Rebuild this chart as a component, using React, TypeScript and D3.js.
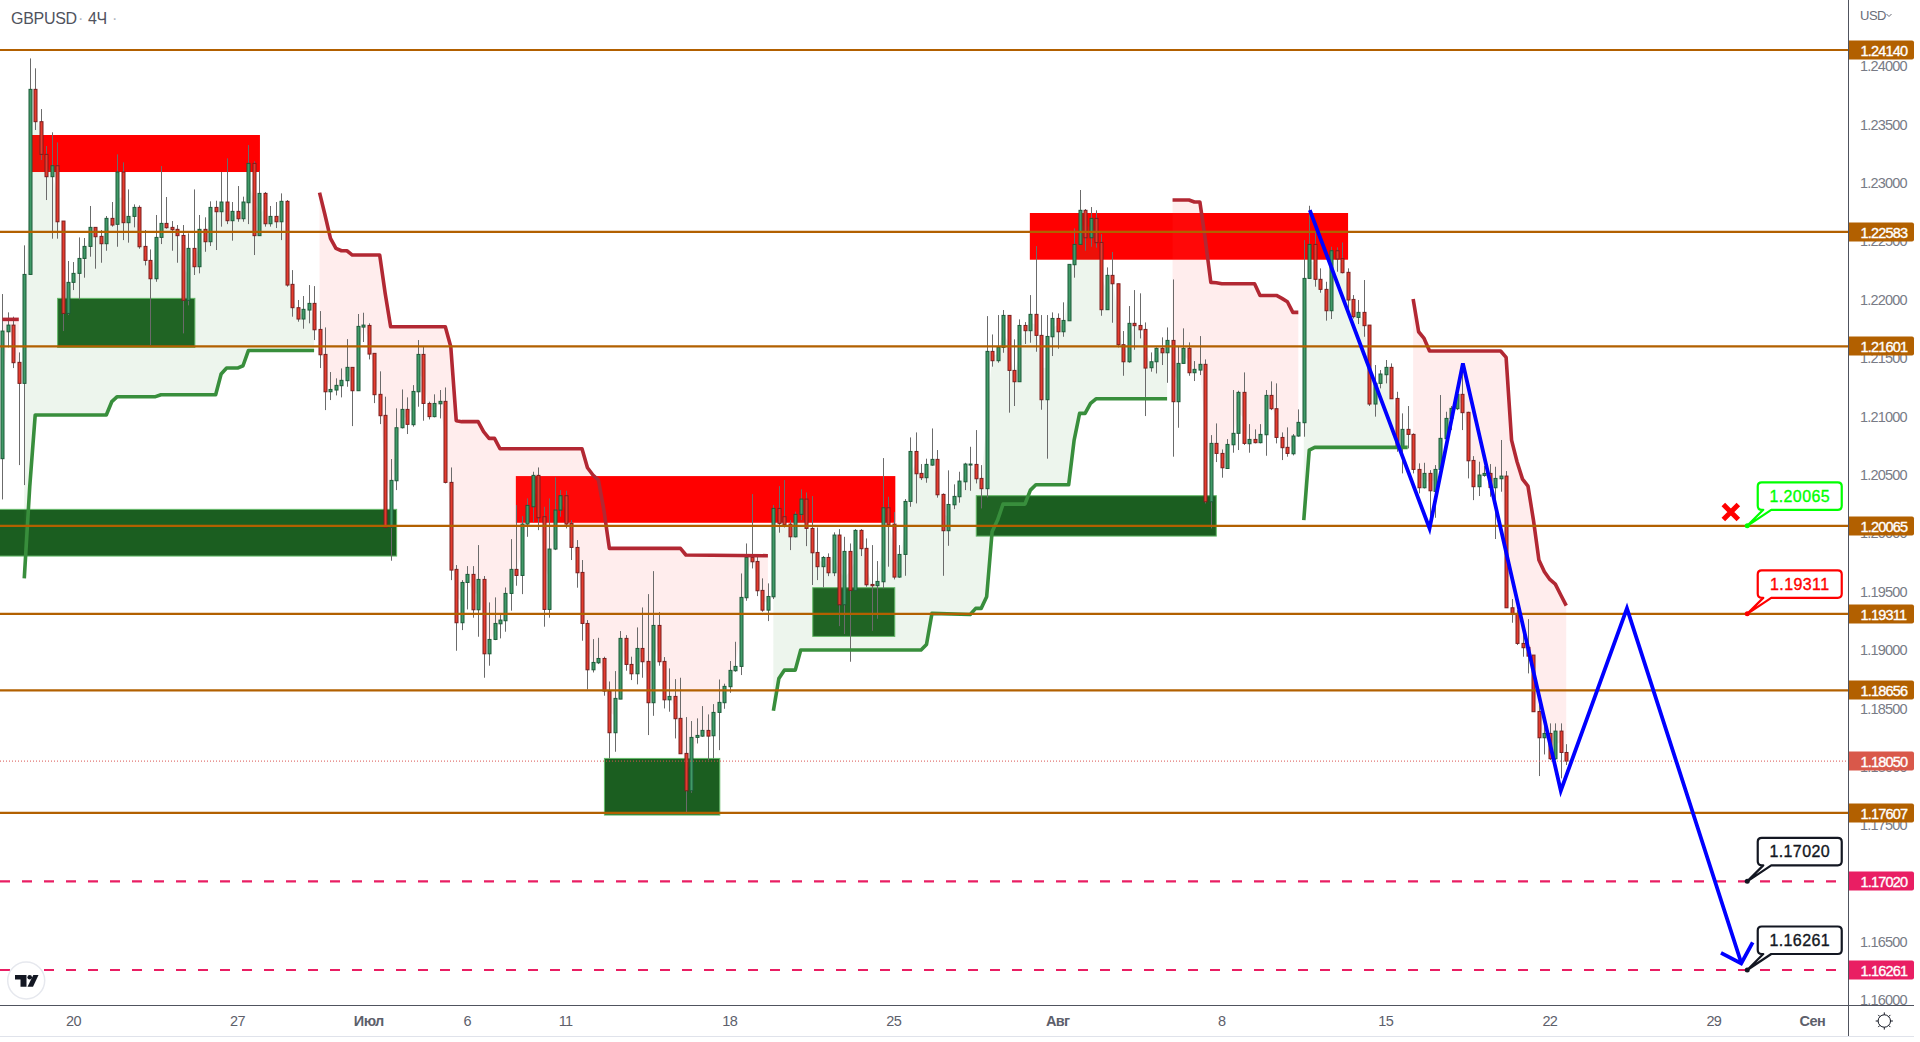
import React from "react";
import * as d3 from "d3";

// All prices are in points: 1 point = 0.00001 GBPUSD
const opens = [
120640,121727,121784,121465,121285,122218,123803,123526,123246,123055,
123149,122675,121884,122150,122227,122355,122458,122621,122544,122481,
122698,122647,123095,122661,122715,122792,122458,122338,122181,122535,
122655,122621,122604,122552,121996,122441,122284,122604,122498,122792,
122755,122838,122678,122758,122695,122832,123169,122550,122912,122652,
122715,122669,122844,122133,121933,121836,121913,121970,121747,121533,
121213,121228,121265,121308,121422,121222,121767,121781,121542,121191,
121011,120051,120451,120905,121062,120931,121213,121533,121113,121000,
121110,121131,120437,119692,119235,119580,119649,119346,119606,118969,
119092,119226,119252,119486,119692,119640,120080,120228,120497,120143,
119349,119866,120200,120323,120086,119880,119666,119229,118832,118892,
118929,118650,118293,118581,119101,118878,118798,119015,118904,118550,
119212,118904,118575,118604,118416,118116,117796,118253,118264,118313,
118267,118467,118550,118687,118824,118861,119449,119794,119760,119512,
119343,119457,120214,120143,120080,119971,120163,120294,120043,119837,
119715,119794,119663,119986,119389,119846,119512,120026,119872,119563,
119552,119586,120220,120080,119626,119820,120274,120702,120514,120477,
120585,120634,120334,120023,120245,120314,120442,120588,120591,120471,
120383,121559,121479,121593,121867,121396,121299,121781,121736,121876,
121696,121145,121684,121841,121727,121821,122301,122475,122767,122532,
122698,122492,121916,122210,122138,121616,121470,121799,121781,121747,
121419,121470,121585,121547,121653,121128,121456,121585,121376,121399,
121448,120271,120771,120685,120556,120759,120857,121208,120768,120805,
120777,120845,121182,121068,120822,120737,120682,120834,120948,122184,
122475,122176,122090,121907,122421,122353,122236,122004,121850,121893,
121784,121108,121285,121359,121422,121156,120742,120891,120848,120548,
120391,120514,120360,120548,120811,120985,121068,121191,121037,120625,
120400,120497,120514,120391,120468,120491,119363,119309,119058,119024,
118958,118475,118250,118287,118070,118307,118124];

const highs = [
122050,121893,121856,121550,122467,124068,123983,123634,123318,123435,
123349,122675,122333,122324,122535,122530,122804,122621,122598,122718,
122838,123246,123178,122946,122818,122809,122598,122432,122727,123146,
122881,122675,122641,122641,122570,122946,122727,122707,122844,122849,
123095,123212,122838,122975,122884,123326,123186,123106,122924,122804,
122838,122912,122855,122255,121999,122033,122127,122118,121904,121764,
121382,121328,121413,121664,121422,121879,121890,121799,121542,121388,
121171,120637,121071,121233,121165,121270,121656,121599,121128,121191,
121228,121250,120565,119729,119600,119720,119720,119900,119635,119409,
119452,119301,119537,119951,120243,120148,120300,120528,120565,120228,
120300,120480,120371,120365,120114,119943,119772,119258,119095,119106,
118944,118732,118821,119164,119129,118944,119195,119366,119480,119677,
119326,118941,118844,118752,118764,118427,118393,118416,118521,118450,
118538,118749,118713,118907,119072,119657,119914,120337,119809,119615,
119572,120243,120405,120457,120114,120186,120377,120351,120320,120051,
119806,119829,120009,120037,119971,119914,120037,120037,119957,119900,
119763,120645,120314,120183,119900,120294,120822,120865,120594,120640,
120899,120714,120343,120540,120420,120528,120605,120742,120885,120585,
121861,121704,121870,121913,121867,121662,121833,121810,122041,122461,
121870,121870,121893,121884,121979,122304,122612,122941,122778,122795,
122767,122564,122278,122410,122138,121733,121947,122084,122056,121807,
121550,121593,121679,121764,122175,121599,121756,121636,121476,121690,
121490,120842,120942,120719,120808,121228,121222,121379,120936,120891,
120936,121228,121302,121285,120865,120908,120851,121062,122512,122806,
122584,122270,122155,122455,122450,122492,122270,122041,121999,122170,
121784,121442,121399,121485,121456,121213,121028,121091,120857,120600,
120605,120542,120585,121185,121042,121091,121205,121456,121042,120662,
120614,120577,120594,120571,120800,120534,119438,119343,119172,119266,
118958,118558,118350,118373,118373,118373,118195];

const lows = [
120291,121593,121416,120585,120414,122218,123455,123198,122855,122524,
122524,121733,121870,122084,122004,122190,122370,122267,122318,122421,
122627,122455,122512,122490,122621,122438,122295,121613,122155,122478,
122610,122421,122318,121713,121953,122213,122227,122412,122461,122427,
122627,122649,122507,122669,122669,122649,122384,122547,122627,122627,
122615,122512,122113,121856,121813,121753,121799,121656,121416,121056,
121142,121182,121165,121256,120919,121222,121639,121490,121116,120936,
120051,119766,120371,120899,120851,120914,121085,120965,120976,120994,
120985,120428,119600,118995,119172,119349,119278,119115,118764,118867,
119086,119101,119158,119338,119552,119480,119971,120097,120028,119201,
119278,119857,120143,120043,119772,119535,119081,118664,118809,118881,
118610,118073,118130,118581,118824,118744,118707,118764,118273,118438,
118867,118501,118473,118244,118113,117602,117779,118201,118258,118059,
118073,118144,118498,118635,118815,118787,119423,119700,119463,119329,
119249,119438,120006,120051,119857,119966,120114,119891,119558,119600,
119537,119634,119634,119206,119138,118901,119509,119806,119543,119166,
119269,119529,119715,119606,119620,119637,120228,120257,120457,120434,
120580,120306,119637,119894,120208,120263,120371,120365,120428,120214,
120308,121428,121462,121547,121034,121091,121299,121622,121633,121556,
121059,120640,121519,121582,121684,121821,122190,122475,122421,122455,
122447,121864,121916,121804,121593,121350,121462,121573,121670,121005,
121385,121370,121442,121290,120657,120905,121456,121350,121305,121356,
120257,120043,120611,120477,120556,120691,120714,120757,120691,120771,
120771,120665,121056,120771,120628,120657,120668,120828,120828,122184,
122113,122061,121822,121836,122241,122227,121856,121841,121793,121684,
121091,121000,121242,121285,121153,120699,120514,120728,120514,120343,
120385,120128,120134,120542,120800,120885,121056,120885,120471,120285,
120320,120485,120314,119952,120357,119363,119235,119044,118944,118801,
118473,117922,118107,118059,118059,117902,118016];

const closes = [
121733,121784,121462,121285,122218,123803,123526,123246,123055,123149,
122669,121884,122150,122227,122355,122458,122621,122541,122481,122698,
122641,123095,122661,122715,122792,122455,122338,122181,122535,122655,
122618,122601,122550,121996,122441,122284,122604,122498,122792,122755,
122838,122678,122758,122695,122838,123169,122550,122912,122652,122715,
122669,122844,122127,121933,121836,121919,121970,121744,121530,121213,
121233,121268,121311,121422,121222,121773,121784,121536,121188,121008,
120051,120454,120905,121062,120934,121216,121533,121113,121000,121113,
121131,120437,119686,119235,119580,119649,119346,119606,118969,119092,
119229,119258,119486,119692,119640,120080,120240,120497,120134,119349,
119866,120200,120323,120080,119880,119663,119229,118832,118895,118929,
118650,118293,118587,119101,118878,118798,119015,118901,118550,119212,
118901,118575,118604,118413,118113,117796,118253,118270,118313,118264,
118467,118553,118690,118827,118861,119452,119794,119757,119509,119343,
119460,120214,120086,120074,119971,120163,120294,120043,119834,119715,
119794,119663,119986,119389,119846,119512,120026,119869,119560,119552,
119589,120220,120074,119626,119820,120274,120702,120511,120477,120591,
120634,120331,120023,120248,120317,120448,120594,120594,120468,120383,
121559,121479,121593,121867,121396,121299,121781,121736,121876,121696,
121145,121687,121841,121727,121824,122304,122475,122767,122532,122698,
122490,121916,122210,122138,121616,121470,121799,121779,121744,121416,
121470,121585,121547,121653,121128,121456,121585,121376,121405,121448,
120271,120771,120685,120562,120762,120857,121208,120771,120805,120777,
120848,121182,121068,120822,120734,120685,120834,120951,122184,122475,
122176,122090,121907,122421,122350,122233,121999,121856,121893,121779,
121108,121285,121365,121422,121153,120742,120891,120848,120548,120391,
120514,120365,120548,120814,120985,121071,121191,121034,120622,120400,
120500,120514,120394,120471,120491,119363,119306,119058,119021,118949,
118473,118250,118287,118070,118307,118124,118050];

// Supertrend segments: bar index / level pairs
const upBars1 = [4,5,6,19,20,21,28,29,39,40,41,43,44,45,57];
const upLevels1 = [119615,120400,121014,121014,121128,121171,121171,121188,121188,121365,121416,121416,121436,121567,121567];
const upBars2 = [141,142,143,145,146,168,169,170,177,178,179,180,181,182,183,187,188,189,195,196,197,198,199,200,213];
const upLevels2 = [118481,118758,118829,118829,119001,119001,119049,119315,119306,119358,119358,119457,120014,120114,120251,120251,120371,120417,120417,120799,121028,121028,121113,121153,121153];
const upBars3 = [238,239,240,257];
const upLevels3 = [120114,120714,120737,120737];

const downBars0 = [0,3];
const downLevels0 = [121833,121833];
const downBars1 = [58,59,60,61,62,63,64,69,70,71,81,82,83,84,87,88,89,90,91,106,107,108,109,110,111,124,125,140];
const downLevels1 = [122918,122727,122527,122441,122421,122421,122384,122384,122056,121770,121770,121599,120965,120957,120957,120871,120814,120814,120725,120725,120562,120500,120457,120200,119872,119872,119815,119809];
const downBars2 = [214,217,218,219,220,221,222,223,229,230,233,234,235,236,237];
const downLevels2 = [122855,122855,122838,122838,122512,122150,122147,122138,122138,122038,122038,122013,121984,121893,121893];
const downBars3 = [258,259,260,261,274,275,276,277,278,279,280,281,282,283,284,285,286];
const downLevels3 = [122007,121727,121670,121562,121562,121507,120799,120614,120465,120405,120114,119772,119672,119606,119566,119472,119381];

// Zones: bar from, bar to, price top, price bottom
const supplyZones = [
  [5.3, 47.1, 123412, 123095],
  [93.9, 163.3, 120491, 120091],
  [187.9, 246.1, 122744, 122344],
];
const demandZones = [
  [10.1, 35.2, 122013, 121593],
  [-1, 72.1, 120206, 119806],
  [110.1, 131.2, 118073, 117588],
  [148.2, 163.2, 119535, 119118],
  [178.1, 222, 120323, 119977],
];

const levels = [124140, 122583, 121601, 120065, 119311, 118656, 117607];
const targets = [117020, 116261];
const lastPrice = 118050;

const forecastBars = [239.1, 261, 267.1, 285, 297.1, 318];
const forecastPrices = [122769, 120043, 121456, 117796, 119358, 116323];
const arrowBars = [314.3, 318, 320.1];
const arrowPrices = [116408, 116317, 116497];

const priceTicks = [116000,116500,117000,117500,118000,118500,119000,119500,120000,120500,121000,121500,122000,122500,123000,123500,124000];
const timeTicks: [number, string, boolean][] = [
  [13,"20",false],[43,"27",false],[67,"Июл",true],[85,"6",false],[103,"11",false],[133,"18",false],
  [163,"25",false],[193,"Авг",true],[223,"8",false],[253,"15",false],[283,"22",false],[313,"29",false],[331,"Сен",true],
];

const callouts: [number, number, string][] = [
  [120065, 319.1, "#00ff00"],
  [119311, 319.1, "#ff0000"],
  [117020, 319.1, "#131722"],
  [116261, 319.1, "#131722"],
];
const crossBar = 316.1;
const crossPrice = 120183;

const AXIS_X = 1848.5;
const AXIS_Y = 1005.5;
const BROWN = "#b26000";
const PINK = "#e91e63";
const SANS = "'Liberation Sans', Arial, sans-serif";

const x = d3.scaleLinear().domain([0, 1]).range([2.4, 7.868]);
const y = d3.scaleLinear().domain([116261, 124140]).range([970, 50]);
const fmt = (p: number) => (p / 100000).toFixed(5);
const mid = (i: number) => (opens[i] + closes[i]) / 2;

function Trend({ bars, values, fill }: { bars: number[]; values: number[]; fill: string }) {
  const level = d3.scaleLinear().domain(bars).range(values);
  const idx = d3.range(bars[0], bars[bars.length - 1] + 1);
  const area = d3.area<number>().x((i) => x(i)).y0((i) => y(level(i))).y1((i) => y(mid(i)));
  return <path d={area(idx)!} fill={fill} />;
}

function TrendLine({ bars, values, color }: { bars: number[]; values: number[]; color: string }) {
  const line = d3.line<number>().x((_, k) => x(bars[k])).y((v) => y(v));
  return <path d={line(values)!} fill="none" stroke={color} strokeWidth={3.6} strokeLinejoin="round" />;
}

function Callout({ price, bar, color }: { price: number; bar: number; color: string }) {
  const px = x(bar);
  const py = y(price);
  const L = px + 10.5, R = px + 94.5, T = py - 43.5, B = py - 16, r = 4;
  const d = `M${L + r} ${T}H${R - r}Q${R} ${T} ${R} ${T + r}V${B - r}Q${R} ${B} ${R - r} ${B}H${px + 24}L${px} ${py}L${px + 16} ${B}H${L + r}Q${L} ${B} ${L} ${B - r}V${T + r}Q${L} ${T} ${L + r} ${T}Z`;
  return (
    <g>
      <path d={d} fill="#fff" stroke={color} strokeWidth={2.2} strokeLinejoin="round" />
      <circle cx={px} cy={py} r={2.5} fill={color} />
      <text x={(L + R) / 2} y={(T + B) / 2 + 5.8} textAnchor="middle" fontFamily={SANS} fontSize={16} fontWeight={500}
        letterSpacing={0.4} fill={color} stroke={color} strokeWidth={0.35}>{fmt(price)}</text>
    </g>
  );
}

function AxisLabel({ price, bg }: { price: number; bg: string }) {
  const py = Math.round(y(price));
  return (
    <g>
      <path d={`M${AXIS_X} ${py - 9.5}H1912q2 0 2 2V${py + 7.5}q0 2 -2 2H${AXIS_X}Z`} fill={bg} />
      <text x={1860.5} y={py + 6} fontFamily={SANS} fontSize={14.5} letterSpacing={-0.8} fill="#fff" stroke="#fff" strokeWidth={0.35}>{fmt(price)}</text>
    </g>
  );
}

export default function App() {
  const wick = "#6b6b6b";
  const upFill = "#409a68", upStroke = "#1d5b39";
  const downFill = "#e53c2e", downStroke = "#7a1f1f";
  const allBars = d3.range(opens.length);
  const forecast = d3.line<number>().x((_, k) => x(forecastBars[k])).y((v) => y(v));
  const arrow = d3.line<number>().x((_, k) => x(arrowBars[k])).y((v) => y(v));
  return (
    <svg width={1920} height={1042} viewBox="0 0 1920 1042" style={{ position: "absolute", left: 0, top: 0, background: "#fff" }}>
      <defs>
        <clipPath id="plot"><rect x={0} y={0} width={AXIS_X} height={AXIS_Y} /></clipPath>
      </defs>
      <g clipPath="url(#plot)">
        {supplyZones.map((z, i) => (
          <rect key={i} x={x(z[0])} width={x(z[1]) - x(z[0])} y={y(z[2])} height={y(z[3]) - y(z[2])} fill="#ff0000" />
        ))}
        {demandZones.map((z, i) => (
          <rect key={i} x={x(z[0])} width={x(z[1]) - x(z[0])} y={y(z[2])} height={y(z[3]) - y(z[2])} fill="#1b5e20" stroke="#66bb6a" strokeWidth={1} />
        ))}
        <Trend bars={upBars1} values={upLevels1} fill="rgba(76,160,80,0.1)" />
        <Trend bars={upBars2} values={upLevels2} fill="rgba(76,160,80,0.1)" />
        <Trend bars={upBars3} values={upLevels3} fill="rgba(76,160,80,0.1)" />
        <Trend bars={downBars0} values={downLevels0} fill="rgba(255,82,82,0.1)" />
        <Trend bars={downBars1} values={downLevels1} fill="rgba(255,82,82,0.1)" />
        <Trend bars={downBars2} values={downLevels2} fill="rgba(255,82,82,0.1)" />
        <Trend bars={downBars3} values={downLevels3} fill="rgba(255,82,82,0.1)" />

        {allBars.map((i) => {
          const up = closes[i] >= opens[i];
          const cx = Math.round(x(i));
          const top = y(Math.max(opens[i], closes[i]));
          const bot = y(Math.min(opens[i], closes[i]));
          return (
            <g key={i}>
              <line x1={cx + 0.5} x2={cx + 0.5} y1={y(highs[i])} y2={y(lows[i])} stroke={wick} strokeWidth={1} />
              <rect x={cx - 1} width={3} y={top} height={Math.max(bot - top, 1)} fill={up ? upFill : downFill} stroke={up ? upStroke : downStroke} strokeWidth={1} />
            </g>
          );
        })}

        <TrendLine bars={upBars1} values={upLevels1} color="#388e3c" />
        <TrendLine bars={upBars2} values={upLevels2} color="#388e3c" />
        <TrendLine bars={upBars3} values={upLevels3} color="#388e3c" />
        <TrendLine bars={downBars0} values={downLevels0} color="#b22833" />
        <TrendLine bars={downBars1} values={downLevels1} color="#b22833" />
        <TrendLine bars={downBars2} values={downLevels2} color="#b22833" />
        <TrendLine bars={downBars3} values={downLevels3} color="#b22833" />

        <line x1={0} x2={AXIS_X} y1={y(lastPrice)} y2={y(lastPrice)} stroke="#d9534f" strokeWidth={1} strokeDasharray="1 2" />
        {levels.map((p) => (
          <line key={p} x1={0} x2={AXIS_X} y1={y(p)} y2={y(p)} stroke={BROWN} strokeWidth={2.2} />
        ))}
        {targets.map((p) => (
          <line key={p} x1={0} x2={AXIS_X - 10} y1={y(p)} y2={y(p)} stroke={PINK} strokeWidth={2.2} strokeDasharray="10 12" />
        ))}

        <path d={forecast(forecastPrices)!} fill="none" stroke="#0000ff" strokeWidth={3.8} strokeLinejoin="miter" />
        <path d={arrow(arrowPrices)!} fill="none" stroke="#0000ff" strokeWidth={3.8} />

        {callouts.map(([p, b, c]) => <Callout key={p} price={p} bar={b} color={c} />)}

        <path
          d={`M${x(crossBar) - 7.5} ${y(crossPrice) - 7.5}L${x(crossBar) + 7.5} ${y(crossPrice) + 7.5}M${x(crossBar) + 7.5} ${y(crossPrice) - 7.5}L${x(crossBar) - 7.5} ${y(crossPrice) + 7.5}`}
          stroke="#ff0000" strokeWidth={5} fill="none" />

        <circle cx={26.2} cy={980.5} r={18.5} fill="#fff" stroke="#e6e8ee" strokeWidth={1.5} />
        <path d="M15 975H26.5V986.7H20.5V979.5H15Z" fill="#131722" />
        <circle cx={29.7} cy={977.3} r={2.3} fill="#131722" />
        <path d="M33.3 975H38.5L33 986.7H27.5Z" fill="#131722" />
      </g>

      <text y={24} fontFamily={SANS} fontSize={16} letterSpacing={-0.3} fill="#50535e">
        <tspan x={11}>GBPUSD</tspan>
        <tspan x={78} fill="#b2b5be">·</tspan>
        <tspan x={88}>4Ч</tspan>
        <tspan x={112} fill="#b2b5be">·</tspan>
      </text>

      {/* price axis */}
      {priceTicks.map((p) => (
        <text key={p} x={1860} y={y(p) + 5} fontFamily={SANS} fontSize={14.5} letterSpacing={-0.8} fill="#787b86">{fmt(p)}</text>
      ))}
      {levels.map((p) => <AxisLabel key={p} price={p} bg={BROWN} />)}
      <AxisLabel price={lastPrice} bg="#d9584a" />
      {targets.map((p) => <AxisLabel key={p} price={p} bg={PINK} />)}
      <rect x={AXIS_X} y={AXIS_Y + 0.5} width={72} height={31} fill="#fff" />

      <text x={1860} y={20} fontFamily={SANS} fontSize={13} letterSpacing={-0.5} fill="#6a6d78">USD</text>
      <path d="M1886.5 14l2.5 2.5 2.5 -2.5" fill="none" stroke="#6a6d78" strokeWidth={1} />

      {/* time axis */}
      {timeTicks.map(([b, label, strong]) => (
        <text key={label} x={x(b)} y={1026} textAnchor="middle" fontFamily={SANS} fontSize={14.5} letterSpacing={-0.6}
          fontWeight={strong ? 700 : 400} fill="#5d606b">{label}</text>
      ))}

      <line x1={0} x2={1914} y1={AXIS_Y} y2={AXIS_Y} stroke="#50535e" strokeWidth={1} />
      <line x1={AXIS_X} x2={AXIS_X} y1={0} y2={1036} stroke="#50535e" strokeWidth={1} />
      <line x1={0} x2={1914} y1={1036.5} y2={1036.5} stroke="#e0e3eb" strokeWidth={1} />

      {/* settings icon */}
      <g transform="translate(1884.3 1021)" stroke="#131722" fill="none" strokeWidth={1}>
        <circle r={6.2} />
        {d3.range(8).map((k) => {
          const a = (k * Math.PI) / 4;
          return <line key={k} x1={6.2 * Math.cos(a)} y1={6.2 * Math.sin(a)} x2={8.6 * Math.cos(a)} y2={8.6 * Math.sin(a)} />;
        })}
      </g>
    </svg>
  );
}
